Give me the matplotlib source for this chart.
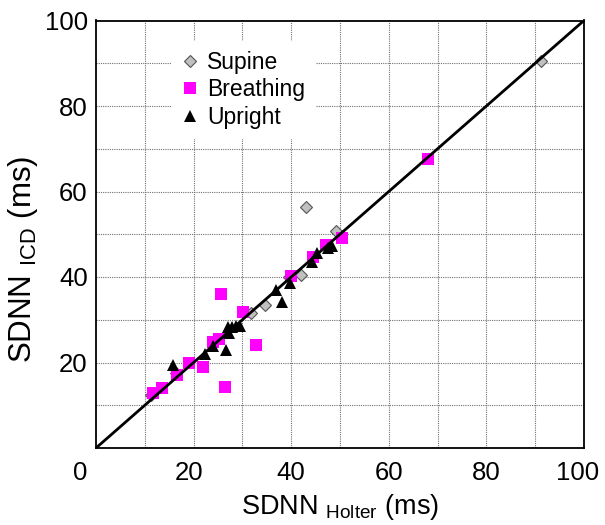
import matplotlib
matplotlib.use('Agg')
import matplotlib.pyplot as plt
import matplotlib.transforms as mtransforms

plt.rcParams['font.family'] = ['Liberation Sans', 'DejaVu Sans']
plt.rcParams['mathtext.fontset'] = 'custom'
plt.rcParams['mathtext.rm'] = 'Liberation Sans'
plt.rcParams['mathtext.it'] = 'Liberation Sans:italic'

# values (ms)
supine_x = [91.2, 43.0, 49.2, 42.0, 39.5, 34.6, 31.8, 16.4, 11.2]
supine_y = [90.5, 56.4, 50.8, 40.4, 39.9, 33.4, 31.5, 17.5, 12.4]

breathing_x = [11.7, 13.6, 16.7, 19.1, 22.0, 24.0, 25.3, 25.6, 26.5, 30.2, 32.8, 40.0, 44.4, 47.1, 50.4, 68.0]
breathing_y = [12.8, 14.0, 17.1, 19.9, 18.9, 24.8, 25.6, 36.0, 14.2, 31.7, 24.2, 40.2, 44.6, 47.4, 49.2, 67.5]

upright_x = [15.7, 22.3, 24.0, 26.6, 27.3, 27.0, 27.8, 28.6, 29.5, 36.9, 38.1, 39.8, 44.2, 45.2, 47.6, 48.3]
upright_y = [19.5, 22.1, 23.8, 22.9, 26.8, 28.2, 28.4, 28.6, 28.5, 36.9, 34.1, 38.6, 43.4, 45.7, 46.7, 47.3]

identity = [0, 100]
x_ticks = [0, 20, 40, 60, 80, 100]
x_tick_labels = ['0', '20', '40', '60', '80', '100']
y_ticks = [20, 40, 60, 80, 100]
y_tick_labels = ['20', '40', '60', '80', '100']
grid_ticks = [10, 20, 30, 40, 50, 60, 70, 80, 90]

fig = plt.figure(figsize=(6.05, 5.25), dpi=100)
ax = fig.add_axes([96 / 605, 1 - 448 / 525, 488 / 605, 427.5 / 525])

ax.plot(supine_x, supine_y, linestyle='none', marker='D', markersize=6.5,
        markerfacecolor='#c0c0c0', markeredgecolor='#555555', markeredgewidth=0.8,
        label='Supine', zorder=3)
ax.plot(breathing_x, breathing_y, linestyle='none', marker='s', markersize=8.4,
        markerfacecolor='#ff00ff', markeredgecolor='#ff00ff', markeredgewidth=0,
        label='Breathing', zorder=4)
ax.plot(upright_x, upright_y, linestyle='none', marker='^', markersize=8.8,
        markerfacecolor='black', markeredgecolor='black', markeredgewidth=0,
        label='Upright', zorder=5)
ax.plot(identity, identity, color='black', linewidth=2, zorder=6)

ax.set_xlim(0, 100)
ax.set_ylim(0, 100)

# grid every 10 (dotted), labels every 20
for g in grid_ticks:
    ax.axvline(g, color='#707070', linewidth=0.8, linestyle=(0, (1, 1)), zorder=1)
    ax.axhline(g, color='#707070', linewidth=0.8, linestyle=(0, (1, 1)), zorder=1)

ax.set_xticks(x_ticks)
ax.set_xticklabels(x_tick_labels)
ax.set_yticks(y_ticks)
ax.set_yticklabels(y_tick_labels)
ax.tick_params(axis='both', length=0, labelsize=18.5)
ax.tick_params(axis='x', pad=9)
ax.tick_params(axis='y', pad=6)

# small horizontal nudges of some x tick labels, as in the original
x_nudge = {'0': -16, '20': -5, '100': -6}
for lab in ax.get_xticklabels():
    dx = x_nudge.get(lab.get_text(), 0)
    if dx:
        off = mtransforms.ScaledTranslation(dx / 100, 0, fig.dpi_scale_trans)
        lab.set_transform(lab.get_transform() + off)

for sp in ax.spines.values():
    sp.set_linewidth(1.3)
    sp.set_color('black')
    sp.set_zorder(7)

leg = ax.legend(loc='upper left', bbox_to_anchor=(0.153, 0.952), fontsize=16.5,
                frameon=True, fancybox=False, framealpha=1, edgecolor='none',
                facecolor='white', handlelength=0.8, handletextpad=0.35,
                labelspacing=0.18, borderpad=0.45, borderaxespad=0)
leg.set_zorder(8)

fig.text(340 / 605, 1 - 507 / 525, r'SDNN $_{\mathrm{Holter}}$ (ms)', fontsize=19.5,
         ha='center', va='center')
fig.text(23.5 / 605, 1 - 259 / 525, r'SDNN $_{\mathrm{ICD}}$ (ms)', fontsize=22.5,
         ha='center', va='center', rotation=90)

fig.savefig('out.png', dpi=100)
